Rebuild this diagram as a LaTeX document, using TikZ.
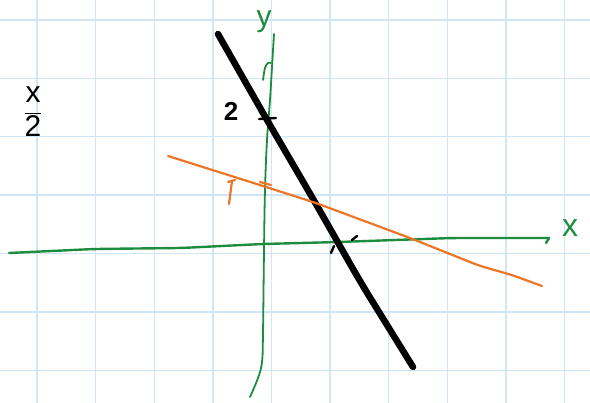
\documentclass[tikz,border=0pt]{standalone}
\usepackage{fontspec}
\setmainfont{Liberation Sans}
\begin{document}
\begin{tikzpicture}[x=1pt,y=-1pt,
  gridline/.style={draw=gridblue,line width=1.4pt},
  axis/.style={draw=axisgreen,line width=2.4pt,line cap=round,line join=round},
  thinaxis/.style={draw=axisgreen,line width=1.8pt,line cap=round,line join=round},
  blackline/.style={draw=black,line width=6.5pt,line cap=round,line join=round},
  orangeline/.style={draw=penorange,line width=2.2pt,line cap=round,line join=round,rounded corners=8pt},
  blackmark/.style={draw=black,line width=2.4pt,line cap=round},
  orangemark/.style={draw=penorange,line width=2.2pt,line cap=round},
  handlabel/.style={inner sep=0pt}]
\definecolor{gridblue}{RGB}{208,230,246}
\definecolor{axisgreen}{RGB}{30,140,62}
\definecolor{penorange}{RGB}{236,118,38}
\useasboundingbox (0,0) rectangle (590,403);
\fill[white] (0,0) rectangle (590,403);
% grid
\foreach \k in {0,...,9} {\draw[gridline] ({37+58.6*\k},0) -- ({37+58.6*\k},403);}
\foreach \k in {0,...,6} {\draw[gridline] (0,{20+58.4*\k}) -- (590,{20+58.4*\k});}
% x axis
\draw[axis,rounded corners=10pt] (9,253) -- (94,249) -- (181,248) -- (263,244) -- (339,242) -- (452,238) -- (549,238);
\draw[axis] (549,238) -- (546,243);
% y axis
\draw[thinaxis] plot[smooth,tension=0.6] coordinates {(250,397) (258,378) (262,362) (263,333) (264,250) (265,190) (267,140) (270,100) (272,67) (274,34)};
\draw[thinaxis] plot[smooth,tension=0.6] coordinates {(263,80) (265,68) (268,63) (271,63)};
% black line
\draw[blackline,rounded corners=20pt] (218,34) -- (267,120) -- (312,197) -- (361,283) -- (413,367);
\draw[blackmark] (259,119) -- (276,118);
\draw[blackmark] (352,240) -- (357,236);
\draw[blackmark] (331,253) -- (334,246);
% orange line
\draw[orangeline] (168,156) -- (263,186) -- (316,203) -- (410,238) -- (480,266) -- (512,275) -- (542,286);
\draw[orangemark] (260,182) -- (271,185);
\draw[orangemark] (232,181) -- (229,204);
\draw[orangemark] (228,182) -- (235,180);
% labels
\node[handlabel,anchor=base,text=axisgreen,font=\fontsize{30}{30}\selectfont] (ylab) at (264,27) {y};
\node[handlabel,anchor=center,text=axisgreen,font=\fontsize{32}{32}\selectfont] (xlab) at (570,228) {x};
\node[handlabel,anchor=center,font=\fontsize{26}{26}\selectfont\bfseries] (two) at (231,111) {2};
\node[handlabel,anchor=center,font=\fontsize{30}{30}\selectfont] (frac) at (33,112) {$\displaystyle\frac{\textrm{x}}{\textrm{2}}$};
\end{tikzpicture}
\end{document}
